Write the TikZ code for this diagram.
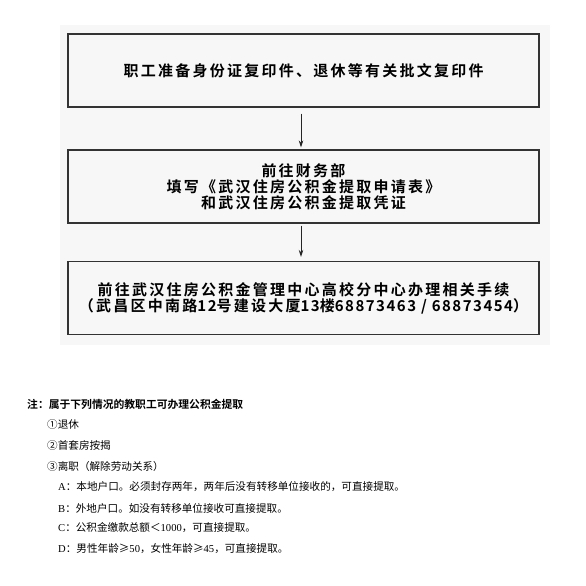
\documentclass[tikz,border=0pt]{standalone}
\usepackage{fontspec}
\usetikzlibrary{arrows.meta}
\newfontfamily\boxfont{Noto Sans CJK SC Bold}[LetterSpace=15]
\newfontfamily\digitfont{Noto Sans CJK SC Bold}[LetterSpace=10]
\newfontfamily\notefont{Noto Sans CJK SC}
\newfontfamily\notebold{Noto Sans CJK SC Bold}
\newfontfamily\latfont{Liberation Serif}
\newcommand{\num}[1]{{\digitfont #1}}
\begin{document}
\begin{tikzpicture}[x=1pt,y=-1pt,
    stepbox/.style={draw=black!80,line width=1.2pt,minimum width=471pt,minimum height=73pt,
      align=center,inner sep=0pt,font=\boxfont\fontsize{15}{16}\selectfont},
    flow/.style={-{Stealth[length=7pt,width=4.5pt]},line width=0.9pt,black!85},
    note/.style={anchor=west,inner sep=0pt,font=\notefont\fontsize{10.6}{12}\selectfont}]
    \useasboundingbox (0,0) rectangle (586,586);
    \fill[black!3] (60,25) rectangle (550,345);

    \node[stepbox] (prepare) at (303.5,70.5) {职工准备身份证复印件、退休等有关批文复印件};
    \node[stepbox] (finance) at (303.5,186.5) {前往财务部\\填写《武汉住房公积金提取申请表》\\和武汉住房公积金提取凭证};
    \node[stepbox] (center) at (303.5,298) {前往武汉住房公积金管理中心高校分中心办理相关手续\\（武昌区中南路\num{12}号建设大厦\num{13}楼\num{68873463 / 68873454}）};

    \draw[flow,shorten <=6pt,shorten >=2pt] (prepare.south -| 301,0) -- (finance.north -| 301,0);
    \draw[flow,shorten <=2pt,shorten >=4pt] (finance.south -| 301,0) -- (center.north -| 301,0);

    \node[note,font=\notebold\fontsize{10.8}{12}\selectfont] (title) at (27,404) {注：属于下列情况的教职工可办理公积金提取};
    \node[note] (retire) at (47,424) {①退休};
    \node[note] (house) at (47,445) {②首套房按揭};
    \node[note] (leave) at (47,466) {③离职（解除劳动关系）};
    \node[note] (caseA) at (58,487) {{\latfont A}：本地户口。必须封存两年，两年后没有转移单位接收的，可直接提取。};
    \node[note] (caseB) at (58,508) {{\latfont B}：外地户口。如没有转移单位接收可直接提取。};
    \node[note] (caseC) at (58,528) {{\latfont C}：公积金缴款总额＜{\latfont 1000}，可直接提取。};
    \node[note] (caseD) at (58,549) {{\latfont D}：男性年龄≥{\latfont 50}，女性年龄≥{\latfont 45}，可直接提取。};
\end{tikzpicture}
\end{document}
